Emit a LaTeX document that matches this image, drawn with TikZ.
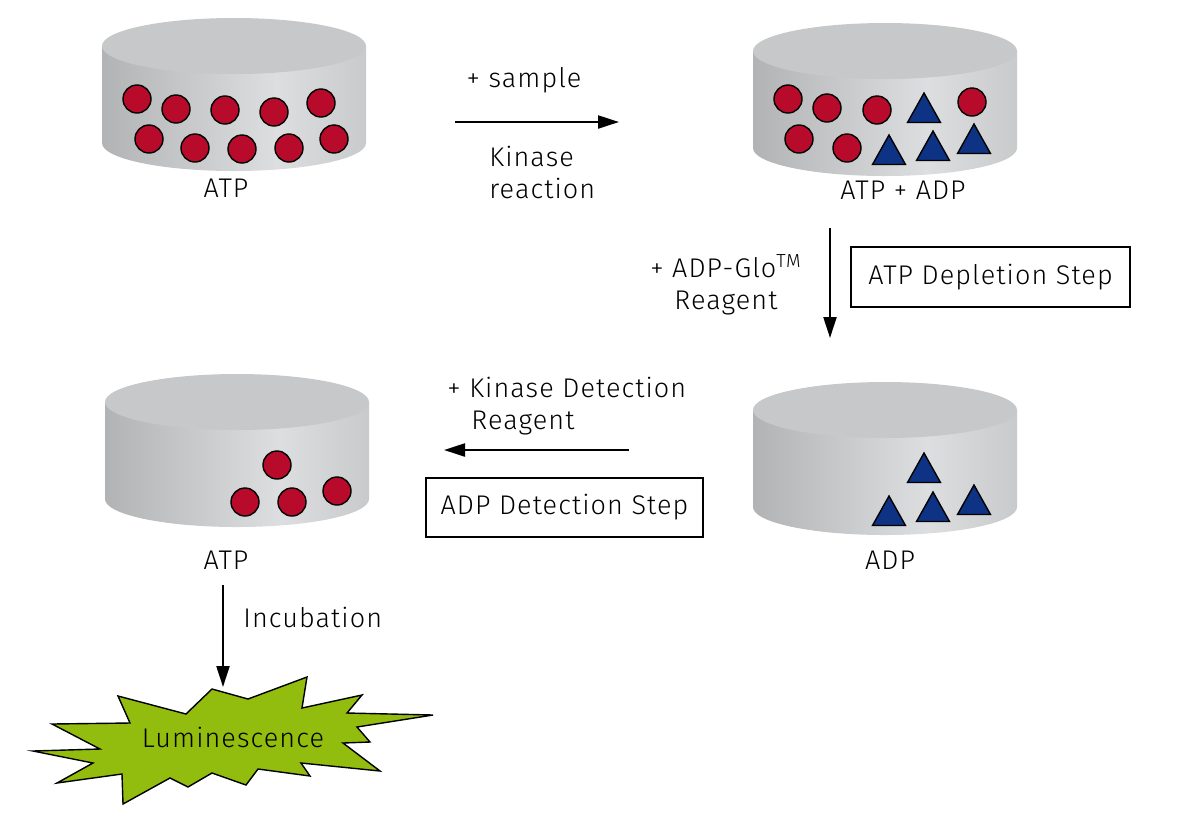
\documentclass[tikz,border=0pt]{standalone}
\usepackage{fontspec}
\setmainfont{Fira Sans}[UprightFont={* Light}, LetterSpace=4]
\usetikzlibrary{arrows.meta}
\usetikzlibrary{positioning}
\definecolor{atpred}{RGB}{184,10,42}
\definecolor{adpblue}{RGB}{14,50,132}
\definecolor{lumigreen}{RGB}{146,188,14}
\definecolor{dishtop}{RGB}{199,200,202}
\definecolor{dishA}{RGB}{178,179,181}
\definecolor{dishB}{RGB}{221,222,224}
\definecolor{dishC}{RGB}{201,202,204}
\pgfdeclarehorizontalshading{dishside}{100bp}{color(0bp)=(dishA); color(25bp)=(dishA); color(58bp)=(dishB); color(75bp)=(dishC); color(100bp)=(dishC)}

\begin{document}
\begin{tikzpicture}
    [x=0.5pt, y=-0.5pt,
     dishbody/.style={shading=dishside},
     dishlid/.style={fill=dishtop},
     atp/.style={draw=black, line width=0.7pt, fill=atpred},
     adp/.style={draw=black, line width=0.7pt, fill=adpblue, line join=miter},
     flow/.style={-{Triangle[length=10.5pt, width=6.5pt]}, line width=1.1pt},
     stepbox/.style={rectangle, draw, line width=1.2pt, inner sep=0pt},
     lbl/.style={inner sep=0pt, align=center},
     burst/.style={draw, fill=lumigreen, line width=0.7pt, line join=miter},
     every node/.style={font=\fontsize{13.5pt}{16pt}\selectfont},
     dish/.pic={
        \shade [dishbody] (-132,0) -- (-132,97) .. controls (-132,112.5) and (-72.9,125) .. (0,125)
            .. controls (72.9,125) and (132,112.5) .. (132,97) -- (132,0) -- cycle;
        \fill [dishlid] (0,0) ellipse [x radius=132, y radius=28];
        \coordinate (-base) at (0,125);
     }]

    \useasboundingbox (0,0) rectangle (1200,832);

    % the four dishes
    \pic (d1) at (234,46) {dish};
    \pic (d2) at (885,51) {dish};
    \pic (d3) at (237,402) {dish};
    \pic (d4) at (885,410) {dish};

    \draw [atp] (137,99) circle [radius=14] (176,109) circle [radius=14] (225,110) circle [radius=14]
        (274,112) circle [radius=14] (321,103) circle [radius=14] (149,139) circle [radius=14]
        (195,148) circle [radius=14] (242,149) circle [radius=14] (289,148) circle [radius=14]
        (334,139) circle [radius=14];
    \draw [atp] (788,99) circle [radius=14] (827,108) circle [radius=14] (877,110) circle [radius=14]
        (972,102) circle [radius=14] (799,139) circle [radius=14] (847,148) circle [radius=14];
    \draw [adp] (924,93) -- ++(16.5,29.5) -- ++(-33,0) -- cycle
        (889,135) -- ++(16.5,29.5) -- ++(-33,0) -- cycle
        (933,131) -- ++(16.5,29.5) -- ++(-33,0) -- cycle
        (974,124) -- ++(16.5,29.5) -- ++(-33,0) -- cycle;
    \draw [atp] (277,465) circle [radius=14] (245,502) circle [radius=14] (292,502) circle [radius=14]
        (337,491) circle [radius=14];
    \draw [adp] (924,453) -- ++(16.5,29.5) -- ++(-33,0) -- cycle
        (889,496) -- ++(16.5,29.5) -- ++(-33,0) -- cycle
        (933,492) -- ++(16.5,29.5) -- ++(-33,0) -- cycle
        (974,485) -- ++(16.5,29.5) -- ++(-33,0) -- cycle;

    \node [lbl, below=4pt of d1-base, xshift=-4pt] (l1) {ATP};
    \node [lbl, below=2.5pt of d2-base, xshift=9pt] (l2) {ATP + ADP};
    \node [lbl, below=12pt of d3-base, xshift=-5.5pt] (l3) {ATP};
    \node [lbl, below=8pt of d4-base, xshift=2.5pt] (l4) {ADP};

    % reaction steps
    \coordinate (r1a) at (455,122);
    \coordinate (r1b) at (619,122);
    \draw [flow] (r1a) -- (r1b);
    \node [lbl] (n1) at (524,80) {+ sample};
    \node [lbl, align=left, anchor=west] (n2) at (489,172) {Kinase\\reaction};

    \coordinate (r2a) at (830,228);
    \coordinate (r2b) at (830,338);
    \draw [flow] (r2a) -- (r2b);
    \node [lbl] (n3) at (726,285) {+ ADP-Glo\textsuperscript{TM}\\Reagent};
    \node [stepbox, minimum width=139.5pt, minimum height=30pt] (s1) at (990.5,277) {ATP Depletion Step};

    \coordinate (r3a) at (629,450);
    \coordinate (r3b) at (444,450);
    \draw [flow] (r3a) -- (r3b);
    \node [lbl, align=left, anchor=west] (n4) at (447,406) {+ Kinase Detection\\\hspace*{12pt}Reagent};
    \node [stepbox, minimum width=138.5pt, minimum height=29.5pt] (s2) at (564.5,507.5) {ADP Detection Step};

    \coordinate (r4a) at (223,585);
    \coordinate (r4b) at (223,687);
    \draw [flow] (r4a) -- (r4b);
    \node [lbl, anchor=west] (n5) at (243,617) {Incubation};

    % luminescence burst
    \draw [burst] (33,751) -- (100,749) -- (52,724) -- (130,723) -- (118,696) -- (186,714) -- (212,689)
        -- (248,699) -- (307,677) -- (302,708) -- (362,695) -- (347,713) -- (433,715) -- (357,727)
        -- (370,742) -- (343,743) -- (380,771) -- (301,763) -- (310,776) -- (258,769) -- (246,785)
        -- (212,773) -- (188,787) -- (170,778) -- (123,804) -- (122,774) -- (57,783) -- (93,763) -- cycle;
    \node [lbl] (lum) at (233,737) {Luminescence};
\end{tikzpicture}
\end{document}
